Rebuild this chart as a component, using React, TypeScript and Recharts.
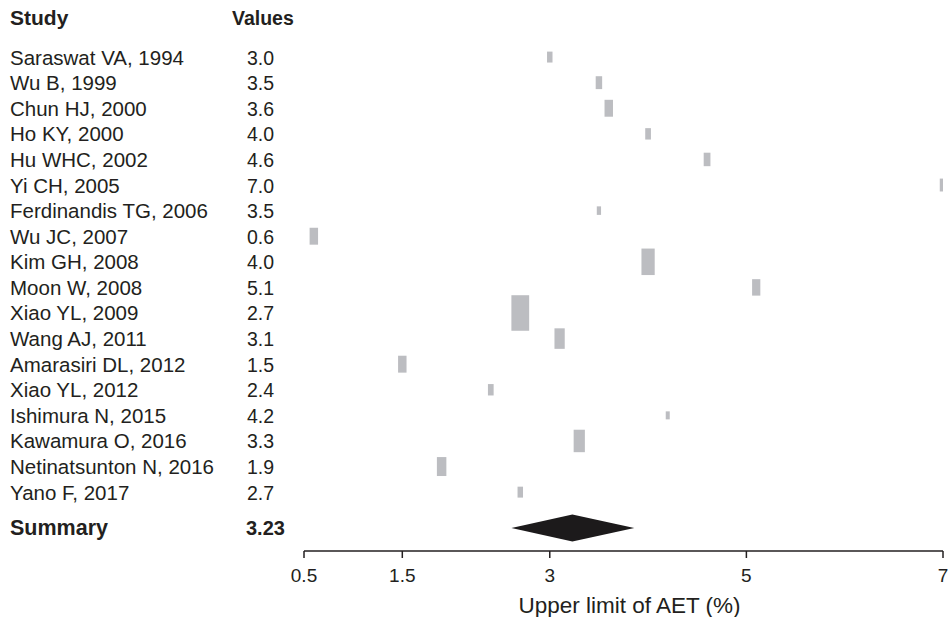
import { ComposedChart, Scatter, XAxis, YAxis, Label } from 'recharts';

const studies = [
  'Saraswat VA, 1994',
  'Wu B, 1999',
  'Chun HJ, 2000',
  'Ho KY, 2000',
  'Hu WHC, 2002',
  'Yi CH, 2005',
  'Ferdinandis TG, 2006',
  'Wu JC, 2007',
  'Kim GH, 2008',
  'Moon W, 2008',
  'Xiao YL, 2009',
  'Wang AJ, 2011',
  'Amarasiri DL, 2012',
  'Xiao YL, 2012',
  'Ishimura N, 2015',
  'Kawamura O, 2016',
  'Netinatsunton N, 2016',
  'Yano F, 2017',
];

const values = [3.0, 3.5, 3.6, 4.0, 4.6, 7.0, 3.5, 0.6, 4.0, 5.1, 2.7, 3.1, 1.5, 2.4, 4.2, 3.3, 1.9, 2.7];

// relative study weights (box area)
const weights = [2.3, 3.2, 5.5, 2.5, 3.5, 3.2, 1.4, 5.5, 13.5, 5.2, 24.3, 8.1, 5.5, 2.5, 1.2, 9.7, 6.9, 2.3];

const summaryValue = 3.23;
const summaryLow = 2.61;
const summaryHigh = 3.86;

const xTicks = [0.5, 1.5, 3, 5, 7];

const HEADER_ROW = -1.55;
const SUMMARY_ROW = 18.4;
const rowTicks = [HEADER_ROW, ...studies.map((_, i) => i), SUMMARY_ROW];

const boxData = studies.map((name, i) => ({ name, x: values[i], y: i, w: weights[i] }));
const diamondData = [
  { x: summaryLow, y: SUMMARY_ROW },
  { x: summaryValue, y: SUMMARY_ROW - 0.53 },
  { x: summaryHigh, y: SUMMARY_ROW },
  { x: summaryValue, y: SUMMARY_ROW + 0.53 },
];

const textFont = "'Liberation Sans', Arial, Helvetica, sans-serif";
const textColor = '#231f20';

const RowLabel = (props: any) => {
  const { y, payload } = props;
  const v = payload.value;
  const baseline = y + 7.5;
  if (v === HEADER_ROW) {
    return (
      <g fontFamily={textFont} fontWeight="bold" fill={textColor}>
        <text x={10} y={baseline} fontSize={21}>Study</text>
        <text x={232} y={baseline} fontSize={19.5}>Values</text>
      </g>
    );
  }
  if (v === SUMMARY_ROW) {
    return (
      <g fontFamily={textFont} fontWeight="bold" fill={textColor}>
        <text x={10} y={baseline} fontSize={21.5}>Summary</text>
        <text x={246} y={baseline} fontSize={20}>{summaryValue.toFixed(2)}</text>
      </g>
    );
  }
  return (
    <g fontFamily={textFont} fontSize={20.5} fill={textColor}>
      <text x={10} y={baseline}>{studies[v]}</text>
      <text x={247} y={baseline} fontSize={19.5}>{values[v].toFixed(1)}</text>
    </g>
  );
};

const WeightBox = (props: any) => {
  const { cx, cy, payload } = props;
  const area = payload.w * 26;
  const bw = Math.max(Math.sqrt(area / 2), 4);
  const bh = Math.max(bw * 2, 6);
  return <rect x={cx - bw / 2} y={cy - bh / 2} width={bw} height={bh} fill="#bcbdc1" />;
};

const Diamond = (props: any) => {
  const pts = (props.points || []).map((p: any) => `${p.x},${p.y}`).join(' ');
  return <polygon points={pts} fill="#1c1a1b" stroke="none" />;
};

export default function App() {
  return (
    <div style={{ position: 'absolute', left: 0, top: 0, background: '#fff' }}>
      <ComposedChart width={952} height={617} margin={{ top: 0, right: 9, bottom: 0, left: 0 }}>
        <XAxis
          type="number"
          dataKey="x"
          domain={[0.5, 7]}
          ticks={xTicks}
          allowDataOverflow
          height={66}
          tickSize={7}
          tickMargin={11}
          axisLine={{ stroke: '#231f20', strokeWidth: 1.5 }}
          tickLine={{ stroke: '#231f20', strokeWidth: 1.5 }}
          tick={{ fontSize: 19, fill: textColor, fontFamily: textFont }}
        >
          <Label
            value="Upper limit of AET (%)"
            position="insideBottom"
            offset={4}
            dx={6}
            style={{ fontSize: 22.5, fill: textColor, fontFamily: textFont }}
          />
        </XAxis>
        <YAxis
          type="number"
          dataKey="y"
          domain={[-2.23, 19.3]}
          reversed
          allowDataOverflow
          ticks={rowTicks}
          interval={0}
          width={304}
          axisLine={false}
          tickLine={false}
          tick={RowLabel}
        />
        <Scatter data={boxData} shape={WeightBox} isAnimationActive={false} />
        <Scatter
          data={diamondData}
          shape={() => <g />}
          line={Diamond}
          lineType="joint"
          isAnimationActive={false}
        />
      </ComposedChart>
    </div>
  );
}
